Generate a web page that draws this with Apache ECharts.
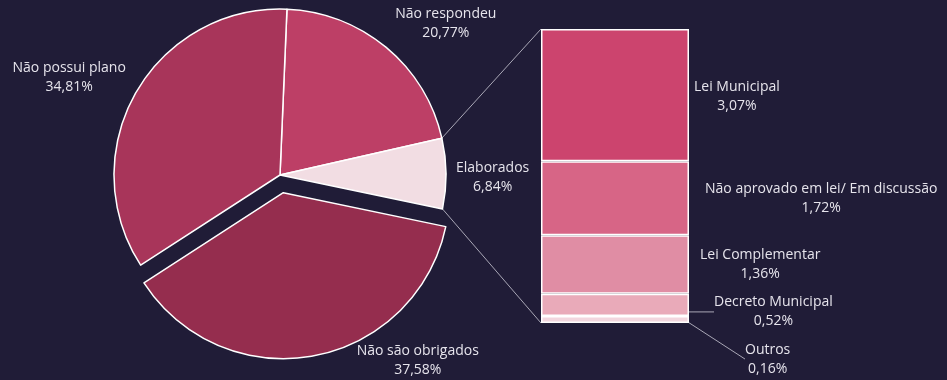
<!DOCTYPE html>
<html>
<head>
<meta charset="utf-8">
<title>Planos municipais</title>
<script src="https://cdn.jsdelivr.net/npm/echarts@6/dist/echarts.min.js"></script>
<style>
  html, body { margin: 0; padding: 0; background: #201c37; }
  #chart { width: 947px; height: 380px; }
</style>
</head>
<body>
<div id="chart"></div>
<script>
// Overall situation (pie)
const pieNames  = ['Não respondeu', 'Elaborados', 'Não são obrigados', 'Não possui plano'];
const pieValues = [20.77, 6.84, 37.58, 34.81];
const pieColors = ['#bd3f66', '#f2dde3', '#952d4e', '#a8355a'];

// Breakdown of the "Elaborados" slice (stacked bar)
const detailNames  = ['Lei Municipal', 'Não aprovado em lei/ Em discussão', 'Lei Complementar', 'Decreto Municipal', 'Outros'];
const detailValues = [3.07, 1.72, 1.36, 0.52, 0.16];
const detailColors = ['#cc446e', '#d76586', '#e08da4', '#e9aab9', '#f2d6de'];

// Layout
const PIE_CX = 280, PIE_CY = 175, PIE_R = 166, START_ANGLE = 87.6, EXPLODE = 18;
const EXPLODED = 2;      // "Não são obrigados" is pulled out
const ZOOMED = 1;        // "Elaborados" is broken down in the bar
const BAR_LEFT = 541, BAR_WIDTH = 148, BAR_TOP = 29, BAR_BOTTOM = 57;
const pieLabelGap = [9, 10, 43, 10];
const pieLabelDy  = [-24, 4, 5, -15];
const barLabelGap = [5, 16, 11, 25, 56];
const barLabelDy  = [1.5, 0.5, 0.5, 7, 39.5];

const FONT = '"Open Sans", "Noto Sans", sans-serif';
const FONT_SIZE = 14;
const TEXT = '#e6e4ec';
const GUIDE = '#a9a7b6';
const CLEAR = 'rgba(0,0,0,0)';

const sum = a => a.reduce((s, v) => s + v, 0);
const pct = v => v.toFixed(2).replace('.', ',') + '%';
const pieTotal = sum(pieValues);
const detailTotal = sum(detailValues);

// slice angles, degrees clockwise from 12 o'clock
function sliceAngles(i) {
  let a = 90 - START_ANGLE;
  for (let j = 0; j < i; j++) a += 360 * pieValues[j] / pieTotal;
  return [a, a + 360 * pieValues[i] / pieTotal];
}
function rimPoint(deg, cx, cy) {
  const r = deg * Math.PI / 180;
  return [cx + PIE_R * Math.sin(r), cy - PIE_R * Math.cos(r)];
}

// the pulled-out slice gets its own pie, shifted along its mid angle
const explodedMid = (sliceAngles(EXPLODED)[0] + sliceAngles(EXPLODED)[1]) / 2 * Math.PI / 180;
const EX_CX = PIE_CX + EXPLODE * Math.sin(explodedMid);
const EX_CY = PIE_CY - EXPLODE * Math.cos(explodedMid);

const labelStyle = {
  show: true,
  position: 'outside',
  color: TEXT,
  fontFamily: FONT,
  fontSize: FONT_SIZE,
  lineHeight: 19,
  formatter: p => p.name + '\n' + pct(p.value)
};

function pieLabelLayout(cx, cy) {
  return p => {
    const i = p.dataIndex;
    const [a0, a1] = sliceAngles(i);
    const mid = (a0 + a1) / 2;
    const rad = mid * Math.PI / 180;
    const pt = rimPoint(mid, cx, cy);
    const side = Math.sin(rad) >= 0 ? 1 : -1;
    return {
      x: pt[0] + side * (pieLabelGap[i] + p.labelRect.width / 2),
      y: pt[1] + pieLabelDy[i],
      align: 'center',
      verticalAlign: 'middle'
    };
  };
}

function pieSeries(cx, cy, keep) {
  return {
    type: 'pie',
    center: [cx, cy],
    radius: PIE_R,
    startAngle: START_ANGLE,
    clockwise: true,
    avoidLabelOverlap: false,
    data: pieNames.map((n, i) => {
      const on = keep(i);
      return {
        name: n,
        value: pieValues[i],
        itemStyle: on
          ? { color: pieColors[i], borderColor: '#ffffff', borderWidth: 1.5 }
          : { color: CLEAR, borderColor: CLEAR, borderWidth: 0 },
        label: { show: on }
      };
    }),
    label: labelStyle,
    labelLine: { show: false },
    labelLayout: pieLabelLayout(cx, cy),
    emphasis: { disabled: true },
    silent: true
  };
}

const barSeries = detailNames.map((name, k) => ({
  name: name,
  type: 'bar',
  stack: 'elaborados',
  barWidth: '100%',
  data: [detailValues[k]],
  itemStyle: { color: detailColors[k], borderColor: '#ffffff', borderWidth: 1.5 },
  label: {
    show: true,
    position: 'right',
    color: TEXT,
    fontFamily: FONT,
    fontSize: FONT_SIZE,
    lineHeight: 19,
    formatter: p => p.seriesName + '\n' + pct(p.value)
  },
  labelLine: { show: k >= 3, lineStyle: { color: GUIDE, width: 1 } },
  labelLayout: p => ({
    x: p.rect.x + p.rect.width + barLabelGap[k] + p.labelRect.width / 2,
    y: p.rect.y + p.rect.height / 2 + barLabelDy[k],
    align: 'center',
    verticalAlign: 'middle'
  }),
  emphasis: { disabled: true },
  silent: true
}));

const chart = echarts.init(document.getElementById('chart'));
chart.setOption({
  backgroundColor: '#201c37',
  animation: false,
  grid: { left: BAR_LEFT, top: BAR_TOP, width: BAR_WIDTH, bottom: BAR_BOTTOM },
  xAxis: { type: 'category', data: ['Elaborados'], show: false },
  yAxis: { type: 'value', inverse: true, min: 0, max: detailTotal, show: false },
  series: [
    pieSeries(PIE_CX, PIE_CY, i => i !== EXPLODED),
    pieSeries(EX_CX, EX_CY, i => i === EXPLODED)
  ].concat(barSeries)
});

// connector lines from the "Elaborados" slice edges to the bar corners
const [e0, e1] = sliceAngles(ZOOMED);
const pTop = rimPoint(e0, PIE_CX, PIE_CY);
const pBot = rimPoint(e1, PIE_CX, PIE_CY);
const barX = chart.convertToPixel({ gridIndex: 0 }, [0, 0])[0] - BAR_WIDTH / 2;
const barTopY = chart.convertToPixel({ yAxisIndex: 0 }, 0);
const barBotY = chart.convertToPixel({ yAxisIndex: 0 }, detailTotal);
chart.setOption({
  graphic: [
    { type: 'line', silent: true, shape: { x1: pTop[0], y1: pTop[1], x2: barX, y2: barTopY }, style: { stroke: GUIDE, lineWidth: 1 } },
    { type: 'line', silent: true, shape: { x1: pBot[0], y1: pBot[1], x2: barX, y2: barBotY }, style: { stroke: GUIDE, lineWidth: 1 } }
  ]
});
</script>
</body>
</html>
